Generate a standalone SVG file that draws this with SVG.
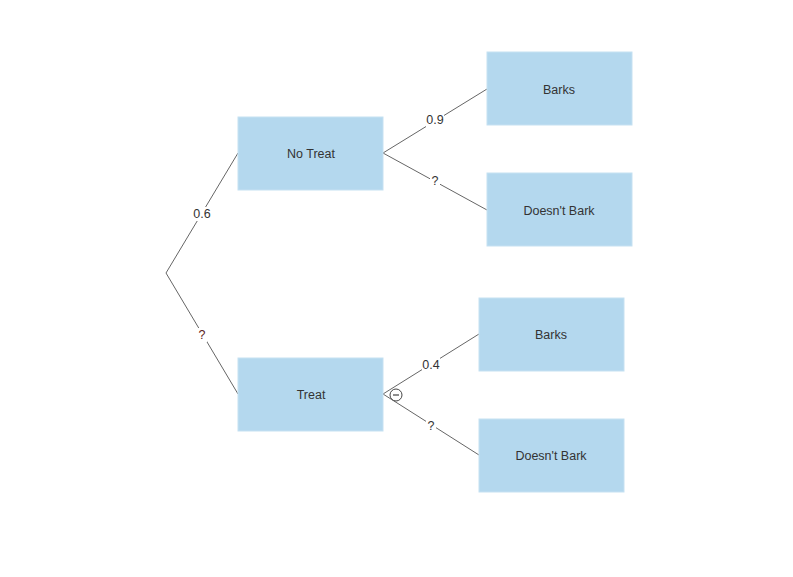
<svg xmlns="http://www.w3.org/2000/svg" width="793" height="577" viewBox="0 0 793 577">
<style>
.node rect{fill:#b4d8ee;stroke:#c6e1f2;stroke-width:1}
.node text{font-family:"Liberation Sans",Arial,sans-serif;font-size:12.5px;fill:#333;text-anchor:middle;dominant-baseline:central}
.edge line{stroke:#666;stroke-width:1}
.lbl rect{fill:#fff}
.lbl text{font-family:"Liberation Sans",Arial,sans-serif;font-size:12.5px;fill:#333;text-anchor:middle;dominant-baseline:central}
.lbl text.q{fill:#5a1a1a}
</style>
<rect width="793" height="577" fill="#fff"/>
<g id="connectors" class="edge">
<line x1="166" y1="273" x2="238" y2="153"/>
<line x1="166" y1="273" x2="238" y2="394"/>
<line x1="383" y1="153" x2="487" y2="89"/>
<line x1="383" y1="153" x2="487" y2="210"/>
<line x1="383" y1="394" x2="479" y2="334"/>
<line x1="383" y1="394" x2="479" y2="455"/>
</g>
<g id="labels" class="lbl">
<rect x="193" y="207" width="18" height="14"/><text x="202" y="214">0.6</text>
<rect x="197" y="328" width="10" height="14"/><text class="q" x="202" y="335">?</text>
<rect x="426" y="113" width="18" height="14"/><text x="435" y="120">0.9</text>
<rect x="430" y="174" width="10" height="14"/><text x="435" y="181">?</text>
<rect x="422" y="358" width="18" height="14"/><text x="431" y="365">0.4</text>
<rect x="426" y="419" width="10" height="14"/><text x="431" y="426">?</text>
</g>
<g id="n-notreat" class="node"><rect x="238" y="117" width="145" height="73"/><text x="311" y="154">No Treat</text></g>
<g id="n-treat" class="node"><rect x="238" y="358" width="145" height="73"/><text x="311" y="395">Treat</text></g>
<g id="n-barks1" class="node"><rect x="487" y="52" width="145" height="73"/><text x="559" y="90">Barks</text></g>
<g id="n-nobark1" class="node"><rect x="487" y="173" width="145" height="73"/><text x="559" y="211">Doesn't Bark</text></g>
<g id="n-barks2" class="node"><rect x="479" y="298" width="145" height="73"/><text x="551" y="335">Barks</text></g>
<g id="n-nobark2" class="node"><rect x="479" y="419" width="145" height="73"/><text x="551" y="456">Doesn't Bark</text></g>
<g id="collapse">
<circle cx="396" cy="395" r="6" fill="#fff" stroke="#444" stroke-width="1"/>
<line x1="393" y1="395" x2="399" y2="395" stroke="#444" stroke-width="1.2"/>
</g>
</svg>
